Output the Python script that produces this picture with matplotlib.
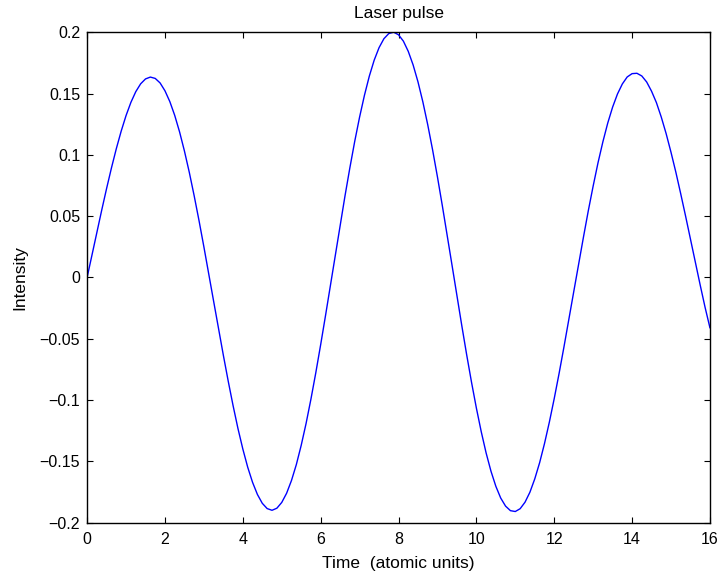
import matplotlib
matplotlib.use("Agg")
import numpy as np
import matplotlib.pyplot as plt

# time axis (atomic units), sampled every 0.125
time = np.arange(0, 16.0001, 0.125)

# intensity at each time sample
intensity = [
    0.0, 0.0183, 0.0367, 0.0549, 0.0725, 0.0893, 0.1050, 0.1193,
    0.1320, 0.1428, 0.1515, 0.1579, 0.1619, 0.1634, 0.1623, 0.1586,
    0.1522, 0.1434, 0.1322, 0.1187, 0.1031, 0.0857, 0.0666, 0.0463,
    0.0249, 0.0030, -0.0194, -0.0417, -0.0635, -0.0846, -0.1046, -0.1232,
    -0.1399, -0.1547, -0.1671, -0.1770, -0.1842, -0.1885, -0.1899, -0.1882,
    -0.1835, -0.1760, -0.1656, -0.1526, -0.1369, -0.1191, -0.0992, -0.0777,
    -0.0548, -0.0310, -0.0065, 0.0181, 0.0426, 0.0665, 0.0894, 0.1110,
    0.1308, 0.1486, 0.1642, 0.1772, 0.1874, 0.1947, 0.1989, 0.2000,
    0.1979, 0.1927, 0.1844, 0.1733, 0.1595, 0.1432, 0.1246, 0.1041,
    0.0820, 0.0586, 0.0345, 0.0099, -0.0148, -0.0392, -0.0629, -0.0854,
    -0.1065, -0.1258, -0.1431, -0.1580, -0.1703, -0.1799, -0.1865, -0.1902,
    -0.1909, -0.1886, -0.1833, -0.1752, -0.1643, -0.1511, -0.1355, -0.1180,
    -0.0988, -0.0783, -0.0567, -0.0345, -0.0119, 0.0105, 0.0327, 0.0543,
    0.0745, 0.0935, 0.1106, 0.1259, 0.1389, 0.1496, 0.1578, 0.1635,
    0.1662, 0.1665, 0.1643, 0.1594, 0.1519, 0.1426, 0.1308, 0.1173,
    0.1021, 0.0858, 0.0682, 0.0500, 0.0312, 0.0124, -0.0062, -0.0243,
    -0.0410]

xticks = [0, 2, 4, 6, 8, 10, 12, 14, 16]
yticks = [-0.2, -0.15, -0.1, -0.05, 0, 0.05, 0.1, 0.15, 0.2]
ytick_labels = ["\u22120.2", "\u22120.15", "\u22120.1", "\u22120.05", "0",
                "0.05", "0.1", "0.15", "0.2"]

plt.rcParams['font.family'] = ['Liberation Sans', 'DejaVu Sans']

fig = plt.figure(figsize=(7.2, 5.75), dpi=100)
ax = fig.add_axes([0.121, 0.091, 0.865, 0.853])

ax.plot(time, intensity, color=(0, 0, 1), lw=1.0)

ax.set_xlim(0, 16)
ax.set_ylim(-0.2, 0.2)
ax.set_xticks(xticks)
ax.set_xticklabels([str(t) for t in xticks])
ax.set_yticks(yticks)
ax.set_yticklabels(ytick_labels)
ax.tick_params(direction='in', length=4, width=0.8, top=True, right=True,
               labelsize=11.5)
ax.tick_params(axis='x', pad=7)
ax.tick_params(axis='y', pad=5)
for s in ax.spines.values():
    s.set_linewidth(1.0)

ax.set_title("Laser pulse", fontsize=12.5, pad=10)
ax.set_xlabel("Time  (atomic units)", fontsize=12.5, labelpad=6)
ax.set_ylabel("Intensity", fontsize=12.5, labelpad=9)

fig.savefig("out.png", dpi=100)
